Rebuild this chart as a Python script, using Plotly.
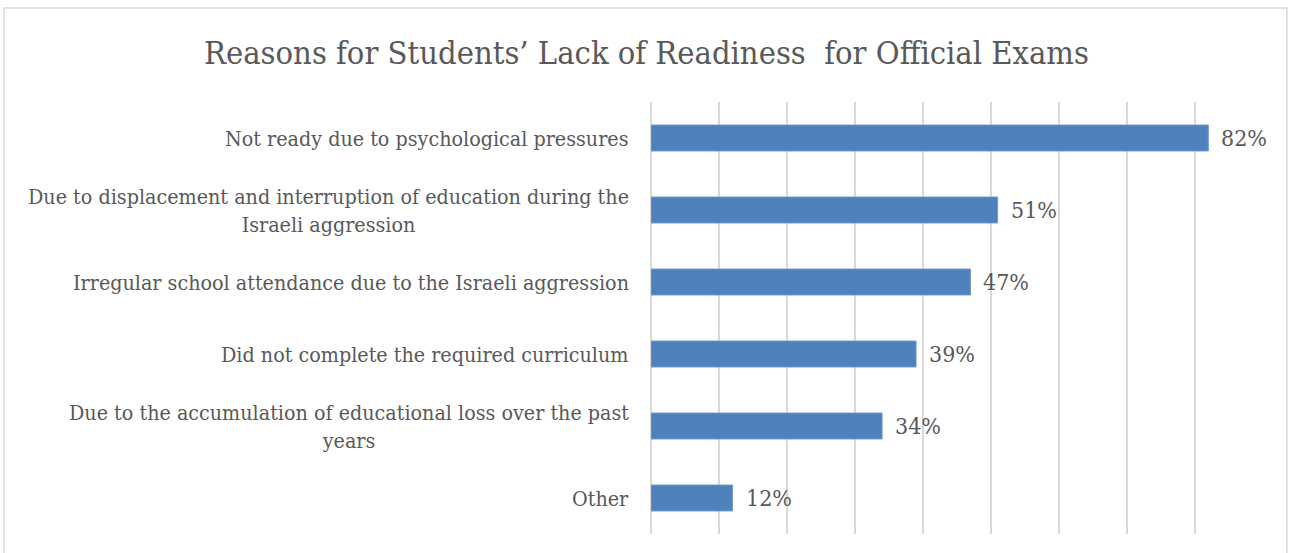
import plotly.graph_objects as go

# Survey results: share of students citing each reason (percent)
categories = [
    "Not ready due to psychological pressures",
    "Due to displacement and interruption of education during the<br>Israeli aggression",
    "Irregular school attendance due to the Israeli aggression",
    "Did not complete the required curriculum",
    "Due to the accumulation of educational loss over the past<br>years",
    "Other",
]
values = [82, 51, 47, 39, 34, 12]

title_text = "Reasons for Students\u2019 Lack of Readiness  for Official Exams"

FONT = "DejaVu Serif Condensed, DejaVu Serif"
TEXT_COLOR = "#595959"
BAR_COLOR = "#4F81BD"
GRID_COLOR = "#D9D9D9"

fig = go.Figure(
    go.Bar(
        x=values,
        y=categories,
        orientation="h",
        marker=dict(color=BAR_COLOR, line=dict(color="#6E98CC", width=1)),
        width=0.36,
        hoverinfo="skip",
    )
)

# value labels to the right of each bar
for cat, val in zip(categories, values):
    fig.add_annotation(
        x=val, y=cat, xref="x", yref="y",
        text=f"{val}%", showarrow=False,
        xanchor="left", yanchor="middle", xshift=11,
        font=dict(family=FONT, size=23, color=TEXT_COLOR),
    )

# category labels, centred multi-line text right-aligned to the axis
for cat in categories:
    fig.add_annotation(
        x=0, y=cat, xref="paper", yref="y",
        text=cat, showarrow=False, align="center",
        xanchor="right", yanchor="middle", xshift=-20,
        font=dict(family=FONT, size=21.3, color=TEXT_COLOR),
    )

fig.update_layout(
    width=1293, height=553,
    margin=dict(l=651, r=30, t=102, b=19),
    paper_bgcolor="white", plot_bgcolor="white",
    showlegend=False,
    title=dict(
        text=title_text, x=0.5, xref="container", xanchor="center",
        y=0.905, yanchor="middle",
        font=dict(family=FONT, size=32.4, color=TEXT_COLOR),
    ),
    xaxis=dict(
        range=[0, 90.05], dtick=10, tick0=0,
        showgrid=True, gridcolor=GRID_COLOR, gridwidth=1.5,
        zeroline=True, zerolinecolor=GRID_COLOR, zerolinewidth=1.5,
        showticklabels=False, ticks="", showline=False,
    ),
    yaxis=dict(
        autorange="reversed", showticklabels=False, ticks="",
        showgrid=False, zeroline=False, showline=False,
    ),
    shapes=[
        dict(type="rect", xref="paper", yref="paper",
             x0=-1.057, x1=1.039, y0=-0.08, y1=1.2176,
             line=dict(color=GRID_COLOR, width=1.5), fillcolor="rgba(0,0,0,0)",
             layer="below"),
    ],
)

fig.write_html("out.html")
